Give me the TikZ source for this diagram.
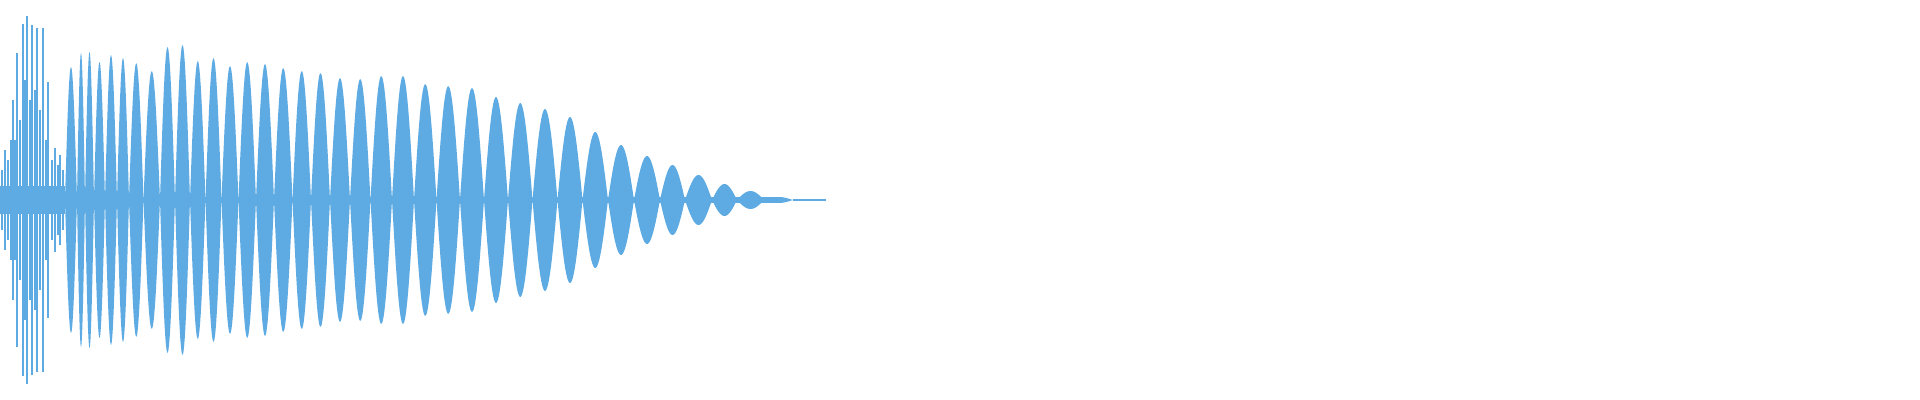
\documentclass[tikz,border=0pt]{standalone}
\definecolor{wave}{RGB}{93,171,226}
\begin{document}
\begin{tikzpicture}[x=0.01cm,y=0.01cm]
\tikzset{lobe/.style={fill=wave,draw=none}}
\useasboundingbox (0,-200) rectangle (1920,200);

% centre band
\fill[lobe] (0,-3) rectangle (776,3);
\fill[lobe] (793,-0.6) rectangle (826,0.6);
\fill[lobe] (0,-14) rectangle (65,14);

% attack spikes
\foreach \x/\h in {2/30,5/50,8/40,11/60,13/100,15/60,17/147,20/80,23/176,25/120,
  27/184,30/100,32/175,35/110,37/172,40/90,43/172,46/60,48/118,52/40,55/52,58/35,60/45,63/30}
  \fill[lobe] (\x-1,-\h) rectangle (\x+1,\h);

% decaying lobes
\foreach \a/\b/\h in {65/77/133,77/85/147,85/94/148,94/105/138,105/117/145,117/129/142,
  129/143.5/137,143.5/160/129,160/175/153,175/190/155,190/205.5/139,205.5/221.5/142,
  221.5/238.5/134,238.5/256/138,256/274/136,274/292.5/132,292.5/311/129,311/330/127,
  330/350/122,350/370.5/121,370.5/392/124,392/414/124,414/436.5/116,436.5/460/114,
  460/484/112,484/508/103,508/532.5/97,532.5/557.5/91,557.5/582.5/83,582.5/608/68,
  608/634/55,634/660/44,660/685/35,685/712/25,712/737/16,737/764/9,764/793/3}
  \fill[lobe] plot[domain=\a:\b,samples=24] (\x,{\h*sin(180*(\x-\a)/(\b-\a))})
    -- plot[domain=\b:\a,samples=24] (\x,{-\h*sin(180*(\x-\a)/(\b-\a))}) -- cycle;
\end{tikzpicture}
\end{document}
